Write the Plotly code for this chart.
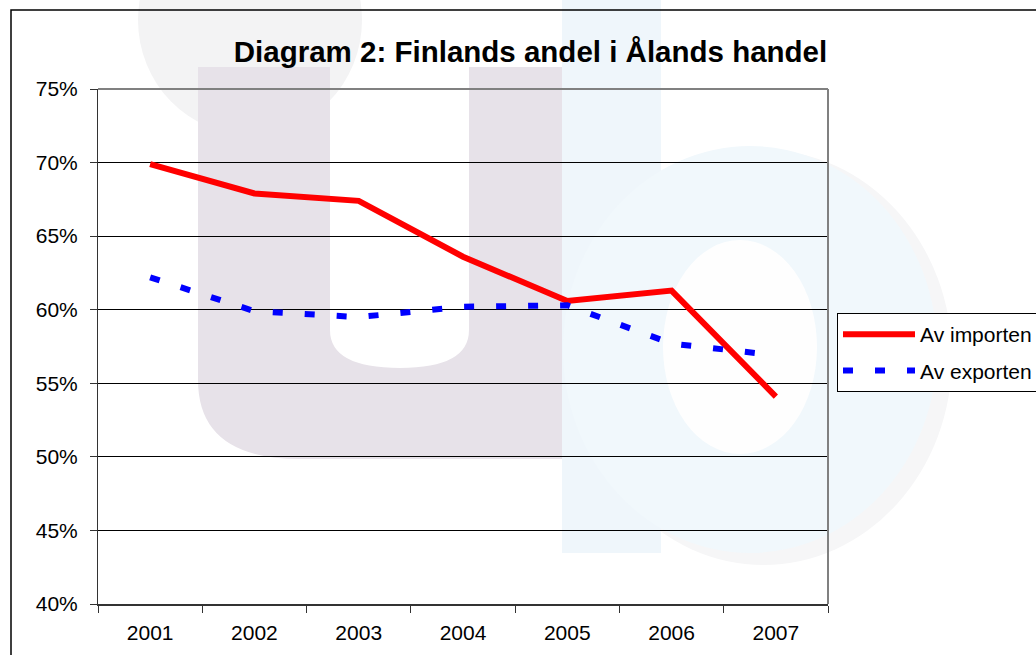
import plotly.graph_objects as go

years = ["2001", "2002", "2003", "2004", "2005", "2006", "2007"]
import_share = [0.699, 0.679, 0.674, 0.636, 0.606, 0.613, 0.541]
export_share = [0.622, 0.599, 0.595, 0.602, 0.603, 0.577, 0.569]
y_ticks = [0.40, 0.45, 0.50, 0.55, 0.60, 0.65, 0.70, 0.75]
y_labels = ["40%", "45%", "50%", "55%", "60%", "65%", "70%", "75%"]

W, H = 1036, 655
L, R, T, B = 98, 828, 89, 604
FONT = "Liberation Sans, Arial, sans-serif"


def px(x):
    return (x - L) / (R - L)


def py(y):
    return (B - y) / (B - T)


def path(cmds):
    out = []
    for c in cmds:
        if isinstance(c, str):
            out.append(c)
        else:
            out.append(f"{px(c[0]):.4f},{py(c[1]):.4f}")
    return " ".join(out)


fig = go.Figure()
fig.add_trace(go.Scatter(
    x=years, y=import_share, name="Av importen", mode="lines",
    line=dict(color="#FF0000", width=6), legendgroup="a"))
fig.add_trace(go.Scatter(
    x=years, y=export_share, name="Av exporten", mode="lines",
    line=dict(color="#0000FF", width=6, dash="10px,22px"), legendgroup="b"))

shapes = []
# faint watermark (background logo)
shapes.append(dict(type="circle", xref="paper", yref="paper", layer="below",
                   x0=px(138), x1=px(362), y0=py(135), y1=py(-95),
                   fillcolor="rgb(243,243,244)", line=dict(width=0)))
shapes.append(dict(type="circle", xref="paper", yref="paper", layer="below",
                   x0=px(575), x1=px(952), y0=py(565), y1=py(150),
                   fillcolor="rgb(246,246,247)", line=dict(width=0)))
shapes.append(dict(type="path", xref="paper", yref="paper", layer="below",
                   path=path(["M", (198, 67), "L", (198, 380), "Q", (198, 459), (300, 459),
                              "L", (562, 459), "L", (562, 67), "L", (469, 67), "L", (469, 330),
                              "Q", (469, 368), (400, 368), "Q", (330, 368), (330, 330),
                              "L", (330, 67), "Z"]),
                   fillcolor="rgb(231,226,233)", line=dict(width=0)))
shapes.append(dict(type="rect", xref="paper", yref="paper", layer="below",
                   x0=px(562), x1=px(661), y0=py(553), y1=py(-5),
                   fillcolor="rgb(239,246,251)", line=dict(width=0)))
shapes.append(dict(type="circle", xref="paper", yref="paper", layer="below",
                   x0=px(563), x1=px(937), y0=py(553), y1=py(146),
                   fillcolor="rgb(241,248,252)", line=dict(width=0)))
shapes.append(dict(type="circle", xref="paper", yref="paper", layer="below",
                   x0=px(663), x1=px(817), y0=py(454), y1=py(240),
                   fillcolor="rgb(254,254,254)", line=dict(width=0)))
# outer chart border
shapes.append(dict(type="rect", xref="paper", yref="paper", layer="above",
                   x0=px(11), x1=px(1045), y0=py(665), y1=py(10),
                   line=dict(color="black", width=1.5), fillcolor="rgba(0,0,0,0)"))
# plot frame (top/right grey)
shapes.append(dict(type="line", xref="paper", yref="paper", layer="above",
                   x0=0, x1=1, y0=1, y1=1, line=dict(color="#808080", width=2)))
shapes.append(dict(type="line", xref="paper", yref="paper", layer="above",
                   x0=1, x1=1, y0=0, y1=1, line=dict(color="#808080", width=2)))

fig.update_layout(
    width=W, height=H,
    margin=dict(l=L, r=W - R, t=T, b=H - B, autoexpand=False),
    paper_bgcolor="white", plot_bgcolor="rgba(0,0,0,0)",
    font=dict(family=FONT, color="black", size=21),
    title=dict(text="<b>Diagram 2: Finlands andel i Ålands handel</b>",
               x=px(530.5), xref="paper", xanchor="center",
               y=1 - 52 / H, yanchor="middle",
               font=dict(family=FONT, size=29.5, color="black")),
    shapes=shapes,
    showlegend=True,
    legend=dict(x=px(837), y=py(313), xanchor="left", yanchor="top",
                bordercolor="black", borderwidth=1, bgcolor="white",
                font=dict(family=FONT, size=21, color="black"),
                itemwidth=72, tracegroupgap=6, traceorder="grouped"),
    xaxis=dict(type="category", range=[-0.5, 6.5], tickson="boundaries",
               ticks="outside", ticklen=7,
               tickcolor="#333", showline=True, linecolor="#333", linewidth=1.5,
               showgrid=False, ticklabelstandoff=9,
               tickfont=dict(family=FONT, size=21, color="black")),
    yaxis=dict(range=[0.40, 0.75], tickvals=y_ticks, ticktext=y_labels,
               ticks="outside", ticklen=7, tickcolor="#333",
               showline=True, linecolor="#333", linewidth=1,
               showgrid=True, gridcolor="black", gridwidth=1, zeroline=False,
               ticklabelstandoff=8,
               tickfont=dict(family=FONT, size=21, color="black")),
)

fig.write_html("out.html", config={"displayModeBar": False},
               post_script="document.body.style.margin='0px';document.body.style.overflow='hidden';")
